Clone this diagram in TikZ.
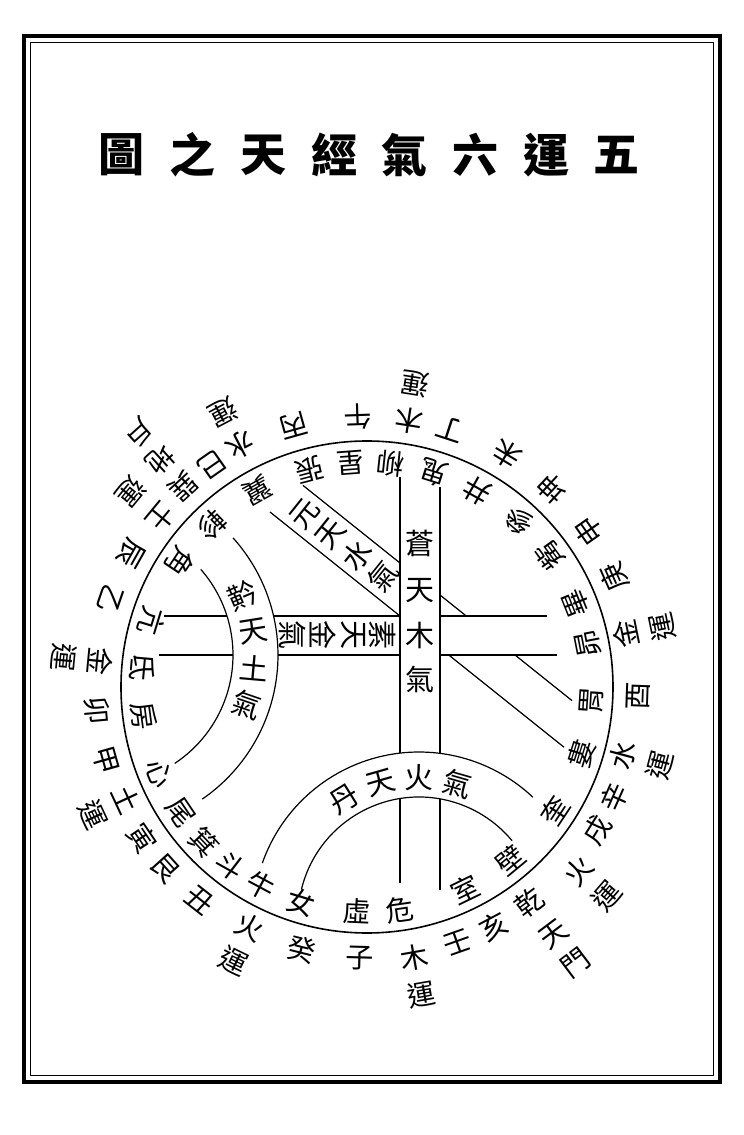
\documentclass[tikz,border=0pt]{standalone}
\usepackage{fontspec}
\setmainfont{Noto Sans CJK TC}
\usetikzlibrary{calc}
\begin{document}
\begin{tikzpicture}[x=1pt,y=1pt,
    ring/.style={font=\fontsize{28}{28}\selectfont, inner sep=0pt},
    band/.style={font=\fontsize{29}{29}\selectfont, inner sep=0pt},
    rule/.style={line width=1.2pt}]
\useasboundingbox (-367,-448) rectangle (377,687);
% frame
\draw[line width=4.5pt] (-343,651) rectangle (353,-395);
\draw[line width=1pt] (-336,644) rectangle (346,-388);
% title
\foreach \c [count=\i] in {圖,之,天,經,氣,六,運,五}
    \node[font=\fontsize{46}{46}\selectfont\bfseries] (t\i) at ({-245+70.7*(\i-1)},532) {\c};
% main circle
\coordinate (C) at (0,0);
\draw[line width=1.6pt] (C) circle (246);
% centres of the curved bands
\coordinate (DC) at (52,-231);
\coordinate (JC) at (-264,32);
% cang tian band (vertical)
\draw[rule] (33,210) -- (33,-66);
\draw[rule] (33,-112) -- (33,-196);
\draw[rule] (73,200) -- (73,-66);
\draw[rule] (73,-112) -- (73,-203);
% su tian band (horizontal)
\draw[rule] (-203,71) -- (-140,71);
\draw[rule] (-93.4,71) -- (33,71);
\draw[rule] (-208,32) -- (-134,32);
\draw[rule] (-89,32) -- (33,32);
\draw[rule] (73,71) -- (180,71);
\draw[rule] (73,32) -- (190,32);
% xuan tian band (slanted)
\draw[rule] (-64,201.6) -- (33,124);
\draw[rule] (73,92) -- (99.25,71);
\draw[rule] (148,32) -- (205,-13.6);
\draw[rule] (-97,175) -- (33,71);
\draw[rule] (81.75,32) -- (197,-60.2);
% jin tian band (left arc)
\draw[rule] ($(JC)+(42:175)$) arc[start angle=42, end angle=-55.4, radius=175];
\draw[rule] ($(JC)+(41.2:130)$) arc[start angle=41.2, end angle=-56.5, radius=130];
% dan tian band (lower arc)
\draw[rule] ($(DC)+(160.7:166)$) arc[start angle=160.7, end angle=46.7, radius=166];
\draw[rule] ($(DC)+(166.4:121)$) arc[start angle=166.4, end angle=39.7, radius=121];
% band texts
\foreach \y/\c [count=\i] in {144/蒼,96/天,52/木,8/氣}
    \node[band] (g\i) at (53,\y) {\c};
\foreach \x/\c [count=\i] in {16/素,-14/天,-44/金,-74/氣}
    \node[band, rotate=-90] (s\i) at (\x,52) {\c};
\foreach \x/\c [count=\i] in {-62/元,-36/天,-10/水,16/氣}
    \node[band, rotate=51.34] (x\i) at (\x,{97.5-0.8*(\x-33)}) {\c};
\foreach \a/\c [count=\i] in {23/黅,9/天,-5/土,-19/氣}
    \node[band, rotate=\a] (j\i) at ($(JC)+(\a:152)$) {\c};
\foreach \a/\c [count=\i] in {122/丹,106/天,90/火,74/氣}
    \node[band, rotate=\a-90] (d\i) at ($(DC)+(\a:140)$) {\c};
% twenty-eight mansions
\foreach \a/\c [count=\i] in {84/柳,72.6/鬼,94.3/星,104.7/張,119.2/翼,133.8/軫,
    146.4/角,163/亢,175/氐,187.5/房,202.6/心,214/尾,223.5/箕,232.5/斗,
    241.9/牛,253/女,267.5/虛,278.3/危,295.9/室,309.6/壁,326.5/奎,342.6/婁,
    356.5/胃,11.1/昴,21.8/畢,35.8/觜,47.6/參,60.8/井}
    \node[ring, rotate=\a+90] (m\i) at (\a:225) {\c};
% stems and branches
\foreach \a/\c [count=\i] in {268.5/子,256/癸,232/丑,222/艮,214/寅,195.7/甲,
    185/卯,161/乙,150.5/辰,125/巳,105.7/丙,92/午,72/丁,59/未,47/坤,35/申,
    24/庚,358/酉,336/辛,328/戌,298/亥,289.4/壬}
    \node[ring, rotate=\a+90] (o\i) at (\a:271) {\c};
% yun labels and gates
\foreach \a/\r/\c [count=\i] in {244/267/火,244/305/運,280/275/木,280/312/運,
    319/281/火,319/318/運,345/265/水,345/303/運,11.5/264/金,11.5/301/運,
    81/270/木,81/307/運,117.7/273/水,117.7/310/運,140.5/266/土,140.5/306/運,
    174.5/268/金,174.5/305/運,205/265/土,205/302/運,
    307/270/乾,307/310/天,307/346/門,132.6/272/巽,132.3/307/地,132/342/戶}
    \node[ring, rotate=\a+90] (y\i) at (\a:\r) {\c};
\end{tikzpicture}
\end{document}
